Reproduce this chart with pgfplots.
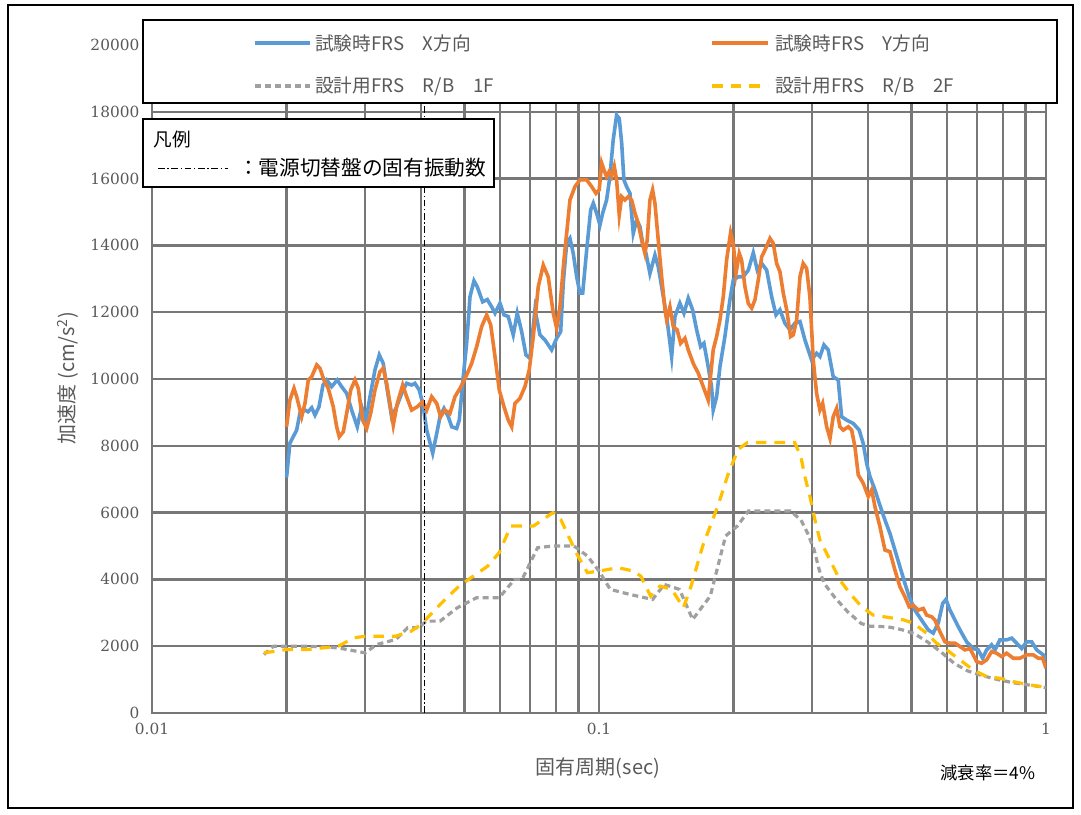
\documentclass[border=0pt]{standalone}
\usepackage{fontspec}
\usepackage{pgfplots}
\pgfplotsset{compat=1.18}
\newfontfamily\jp{Noto Sans CJK JP}
\newfontfamily\tickfont{DejaVu Serif}
\definecolor{blueX}{HTML}{5B9BD5}
\definecolor{orangeY}{HTML}{ED7D31}
\definecolor{grayD}{HTML}{A0A0A0}
\definecolor{yellowD}{HTML}{FFC000}
\definecolor{gridgray}{HTML}{777777}
\definecolor{txtgray}{HTML}{595959}
\begin{document}
\begin{tikzpicture}
\useasboundingbox (0,0) rectangle (810.75pt,610.5pt);
\draw[line width=1.2pt] (6pt,4.5pt) rectangle (804.75pt,606.75pt);
\begin{axis}[
  at={(114pt,75.75pt)}, anchor=south west,
  scale only axis, width=670.5pt, height=501pt,
  xmode=log, xmin=0.01, xmax=1, ymin=0, ymax=20000,
  scaled y ticks=false,
  xtick={0.01,0.1,1}, xticklabels={0.01,0.1,1},
  minor xtick={0.02,0.03,0.04,0.05,0.06,0.07,0.08,0.09,0.2,0.3,0.4,0.5,0.6,0.7,0.8,0.9},
  ytick={0,2000,4000,6000,8000,10000,12000,14000,16000,18000,20000},
  yticklabels={0,2000,4000,6000,8000,10000,12000,14000,16000,18000,20000},
  xmajorgrids, xminorgrids, ymajorgrids,
  grid style={gridgray, line width=1.7pt},
  minor grid style={gridgray, line width=1.7pt},
  major tick length=0pt, minor tick length=0pt,
  axis line style={gridgray, line width=1.7pt},
  tick label style={font=\tickfont\fontsize{11.5}{13}\selectfont, text=txtgray},
  /pgf/number format/assume math mode=true,
  yticklabel style={xshift=-6pt},
  xticklabel style={yshift=-4pt},
]
\addplot[blueX, line width=2.7pt, mark=none] coordinates {
(0.0200,7050) (0.02035,8080) (0.02107,8470) (0.02143,8980) (0.02199,9070) (0.02234,9020) (0.02277,9140) (0.02316,8920) (0.02364,9170) (0.02413,9820) (0.02459,9970) (0.02523,9770) (0.02597,9970) (0.02657,9770) (0.02726,9570) (0.02797,9070) (0.02879,8570) (0.02945,9170) (0.03011,8770) (0.03074,9470) (0.03154,10270) (0.03225,10720) (0.03291,10470) (0.03360,9670) (0.03437,8870) (0.03527,9170) (0.03619,9570) (0.03713,9870) (0.03810,9820) (0.03875,9870) (0.03963,9670) (0.04033,9270) (0.04117,8470) (0.04246,7780) (0.04335,8370) (0.04409,8870) (0.04501,9120) (0.04601,8870) (0.04683,8570) (0.04804,8520) (0.04869,8770) (0.04970,10070) (0.05058,11070) (0.05145,12460) (0.05252,12940) (0.05342,12760) (0.05493,12310) (0.05625,12380) (0.05754,12160) (0.05853,11970) (0.06005,12270) (0.06130,11920) (0.06266,11870) (0.06430,11320) (0.06564,11970) (0.06714,11420) (0.06865,10720) (0.07008,10620) (0.07191,12070) (0.07379,11320) (0.07570,11170) (0.07836,10870) (0.08041,11220) (0.08209,11420) (0.08319,12870) (0.08466,14060) (0.08611,14210) (0.08759,13760) (0.08914,13060) (0.09067,12570) (0.09194,12570) (0.09385,13860) (0.09581,15060) (0.09711,15260) (0.09881,14960) (0.1005,14610) (0.1019,14960) (0.1040,15360) (0.1058,16060) (0.1076,17160) (0.1095,17900) (0.1110,17800) (0.1124,17060) (0.1137,15960) (0.1153,15760) (0.1173,15560) (0.1193,14360) (0.1214,14760) (0.1235,14560) (0.1256,13960) (0.1274,13760) (0.1300,13160) (0.1334,13710) (0.1357,13360) (0.1381,12760) (0.1417,11870) (0.1454,10670) (0.1479,11870) (0.1517,12270) (0.1549,11970) (0.1584,12420) (0.1620,12070) (0.1654,11470) (0.1688,10970) (0.1717,11070) (0.1755,10370) (0.1786,9770) (0.1801,9070) (0.1833,9470) (0.1865,10370) (0.1913,11270) (0.1963,12370) (0.1997,12960) (0.2049,13060) (0.2102,13060) (0.2158,13260) (0.2214,13780) (0.2260,13260) (0.2312,13460) (0.2372,13260) (0.2434,12460) (0.2489,11920) (0.2540,12070) (0.2606,11670) (0.2674,11470) (0.2744,11670) (0.2816,11720) (0.2889,11170) (0.2990,10570) (0.3068,10770) (0.3121,10670) (0.3186,11020) (0.3257,10870) (0.3342,10070) (0.3429,9970) (0.3490,8870) (0.3581,8770) (0.3705,8670) (0.3821,8470) (0.3901,8070) (0.3970,7480) (0.4038,7080) (0.4143,6680) (0.4236,6280) (0.4362,5780) (0.4475,5380) (0.4592,4880) (0.4712,4380) (0.4835,3880) (0.4943,3480) (0.5090,3080) (0.5269,2780) (0.5452,2490) (0.5595,2390) (0.5741,2690) (0.5873,3280) (0.5974,3400) (0.6098,3080) (0.6257,2780) (0.6420,2490) (0.6645,2130) (0.6875,1930) (0.7054,1890) (0.7216,1640) (0.7366,1890) (0.7558,2040) (0.7688,1890) (0.7888,2190) (0.8166,2190) (0.8378,2240) (0.8597,2090) (0.8821,1930) (0.9050,2130) (0.9289,2130) (0.9530,1890) (0.9859,1740) (1.0,1590)
};
\addplot[orangeY, line width=2.7pt, mark=none] coordinates {
(0.0200,8570) (0.02035,9370) (0.02078,9720) (0.02107,9470) (0.02162,8870) (0.02199,9270) (0.02237,9970) (0.02277,10070) (0.02336,10420) (0.02376,10320) (0.02425,9970) (0.02479,9720) (0.02544,9170) (0.02589,8570) (0.02624,8270) (0.02679,8420) (0.02726,8970) (0.02783,9670) (0.02845,9970) (0.02894,9720) (0.02960,8770) (0.03022,8520) (0.03085,8970) (0.03154,9670) (0.03236,10220) (0.03291,10320) (0.03350,9870) (0.03407,9270) (0.03466,8620) (0.03538,9270) (0.03638,9820) (0.03713,9470) (0.03810,9070) (0.03922,9170) (0.04033,9320) (0.04117,9070) (0.04224,9470) (0.04335,9270) (0.04424,8870) (0.04523,9070) (0.04640,8970) (0.04762,9470) (0.04887,9720) (0.05058,10120) (0.05190,10470) (0.05326,10970) (0.05464,11570) (0.05608,11920) (0.05725,11620) (0.05853,10670) (0.05983,9670) (0.06130,9170) (0.06266,8770) (0.06378,8570) (0.06486,9270) (0.06655,9420) (0.06828,9770) (0.06982,10270) (0.07129,11270) (0.07314,12760) (0.07505,13410) (0.07700,13060) (0.07901,11970) (0.08041,11520) (0.08178,12160) (0.08348,13560) (0.08466,14360) (0.08611,15360) (0.08835,15760) (0.09067,15960) (0.09385,15960) (0.09630,15760) (0.09845,15560) (0.1001,15660) (0.1014,16460) (0.1026,16260) (0.1040,16060) (0.1054,16210) (0.1067,16060) (0.1082,16360) (0.1095,15960) (0.1110,14910) (0.1124,15460) (0.1143,15360) (0.1163,15460) (0.1183,15360) (0.1204,14960) (0.1224,14660) (0.1246,14160) (0.1267,13760) (0.1282,14160) (0.1300,15360) (0.1318,15660) (0.1334,15260) (0.1357,14160) (0.1381,13060) (0.1405,12070) (0.1417,11770) (0.1441,12160) (0.1466,11570) (0.1496,11470) (0.1523,11070) (0.1557,11220) (0.1584,10870) (0.1625,10470) (0.1668,10170) (0.1711,9770) (0.1755,9370) (0.1801,10870) (0.1833,11270) (0.1865,11770) (0.1897,12460) (0.1930,13560) (0.1970,14380) (0.1997,14060) (0.2025,13160) (0.2060,13760) (0.2085,13560) (0.2121,12760) (0.2158,12260) (0.2196,12120) (0.2233,12370) (0.2271,12960) (0.2312,13660) (0.2351,13860) (0.2413,14210) (0.2454,14060) (0.2497,13460) (0.2540,13210) (0.2584,12570) (0.2630,12070) (0.2683,11270) (0.2720,11320) (0.2768,11770) (0.2816,13060) (0.2863,13460) (0.2914,13310) (0.2964,12460) (0.3015,10570) (0.3068,9570) (0.3121,9070) (0.3165,9270) (0.3231,8570) (0.3287,8220) (0.3342,8870) (0.3401,9120) (0.3459,8570) (0.3519,8470) (0.3611,8570) (0.3675,8470) (0.3738,7970) (0.3802,7130) (0.3901,6880) (0.4003,6480) (0.4074,6680) (0.4143,6180) (0.4251,5580) (0.4362,4880) (0.4475,4830) (0.4592,4280) (0.4712,3780) (0.4835,3480) (0.4943,3180) (0.5047,3230) (0.5178,3080) (0.5313,3130) (0.5408,2930) (0.5549,2880) (0.5645,2780) (0.5792,2430) (0.5943,2130) (0.6098,2090) (0.6257,2090) (0.6420,1990) (0.6587,1890) (0.6760,1930) (0.6875,1740) (0.6996,1540) (0.7178,1490) (0.7366,1590) (0.7558,1840) (0.7756,1790) (0.7958,1690) (0.8166,1790) (0.8448,1640) (0.8743,1640) (0.9050,1740) (0.9365,1740) (0.9608,1640) (0.9828,1640) (1.0,1340)
};
\addplot[grayD, line width=2.4pt, dash pattern=on 4.5pt off 3pt, mark=none] coordinates {
(0.0178,1750) (0.0187,2000) (0.0200,2000) (0.0223,2000) (0.0261,1950) (0.0300,1800) (0.0318,2050) (0.0351,2200) (0.0373,2550) (0.0395,2550) (0.0411,2750) (0.0441,2750) (0.0482,3150) (0.0532,3450) (0.0598,3450) (0.0647,4000) (0.0673,4000) (0.0729,4950) (0.0789,5000) (0.0879,5000) (0.0942,4700) (0.1000,4250) (0.1060,3700) (0.1172,3550) (0.1318,3400) (0.1400,3850) (0.1514,3700) (0.1620,2800) (0.1774,3500) (0.1920,5300) (0.2040,5600) (0.2160,6050) (0.2680,6050) (0.2830,5780) (0.2930,5380) (0.3030,4880) (0.3110,4280) (0.3190,3880) (0.3360,3480) (0.3600,3030) (0.3860,2680) (0.4030,2600) (0.4430,2580) (0.4740,2500) (0.5070,2380) (0.5430,2130) (0.5820,1830) (0.6240,1480) (0.6680,1260) (0.7150,1130) (0.7800,1000) (0.8490,900) (0.9260,830) (1.0,760)
};
\addplot[yellowD, line width=2.4pt, dash pattern=on 8pt off 6pt, mark=none] coordinates {
(0.0178,1800) (0.0200,1900) (0.0223,1900) (0.0261,2000) (0.0283,2250) (0.0300,2300) (0.0351,2300) (0.0380,2450) (0.0400,2650) (0.0420,2950) (0.0445,3300) (0.0482,3750) (0.0511,4000) (0.0564,4400) (0.0598,4800) (0.0635,5600) (0.0714,5600) (0.0789,6000) (0.0821,5800) (0.0889,4800) (0.0942,4200) (0.1000,4250) (0.1104,4350) (0.1194,4250) (0.1240,4100) (0.1305,3500) (0.1370,3800) (0.1455,3700) (0.1545,3150) (0.1607,3800) (0.1706,5000) (0.1845,6200) (0.1950,7200) (0.2050,7900) (0.2150,8100) (0.2740,8100) (0.2830,7670) (0.2889,7070) (0.2964,6480) (0.3042,5780) (0.3121,5180) (0.3287,4580) (0.3459,3980) (0.3642,3580) (0.3869,3180) (0.4108,2930) (0.4400,2870) (0.4794,2790) (0.5047,2690) (0.5408,2390) (0.5694,2090) (0.5996,1890) (0.6420,1590) (0.6875,1290) (0.7366,1090) (0.7888,1040) (0.8448,940) (0.9207,840) (1.0,770)
};
\addplot[black, line width=0.6pt, dash pattern=on 5pt off 2pt on 1pt off 2pt, mark=none] coordinates {(0.0406,0) (0.0406,20000)};
\end{axis}
% top legend
\draw[line width=1.5pt, fill=white] (107.25pt,533.25pt) rectangle (792.75pt,595.5pt);
\draw[blueX, line width=2.7pt] (191.25pt,578.25pt) -- (232.5pt,578.25pt);
\node[anchor=west, inner sep=0pt, font=\jp\fontsize{14}{16}\selectfont, text=txtgray] at (236.25pt,578.25pt) {試験時FRS　X方向};
\draw[orangeY, line width=2.7pt] (534pt,578.25pt) -- (576pt,578.25pt);
\node[anchor=west, inner sep=0pt, font=\jp\fontsize{14}{16}\selectfont, text=txtgray] at (581.25pt,578.25pt) {試験時FRS　Y方向};
\draw[grayD, line width=2.4pt, dash pattern=on 4.5pt off 3pt] (191.25pt,546pt) -- (232.5pt,546pt);
\node[anchor=west, inner sep=0pt, font=\jp\fontsize{14}{16}\selectfont, text=txtgray] at (236.25pt,546pt) {設計用FRS　R/B　1F};
\draw[yellowD, line width=2.4pt, dash pattern=on 8pt off 6pt] (534pt,546pt) -- (576pt,546pt);
\node[anchor=west, inner sep=0pt, font=\jp\fontsize{14}{16}\selectfont, text=txtgray] at (581.25pt,546pt) {設計用FRS　R/B　2F};
% hanrei box
\draw[line width=1.5pt, fill=white] (107.25pt,470.25pt) rectangle (370.5pt,521.25pt);
\node[anchor=west, inner sep=0pt, font=\jp\fontsize{14}{16}\selectfont] at (115pt,506pt) {凡例};
\draw[black, line width=0.6pt, dash pattern=on 5pt off 2pt on 1pt off 2pt] (118.5pt,484.5pt) -- (171pt,484.5pt);
\node[anchor=west, inner sep=0pt, font=\jp\fontsize{15.5}{17}\selectfont] at (178.5pt,484.5pt) {：電源切替盤の固有振動数};
% axis labels
\node[rotate=90, font=\jp\fontsize{15}{17}\selectfont, text=txtgray] at (51pt,327pt) {加速度 (cm/s\textsuperscript{2})};
\node[font=\jp\fontsize{15}{17}\selectfont, text=txtgray] at (448.5pt,34.5pt) {固有周期(sec)};
\node[font=\jp\fontsize{13}{15}\selectfont] at (741pt,30.75pt) {減衰率＝4\%};
\end{tikzpicture}
\end{document}
